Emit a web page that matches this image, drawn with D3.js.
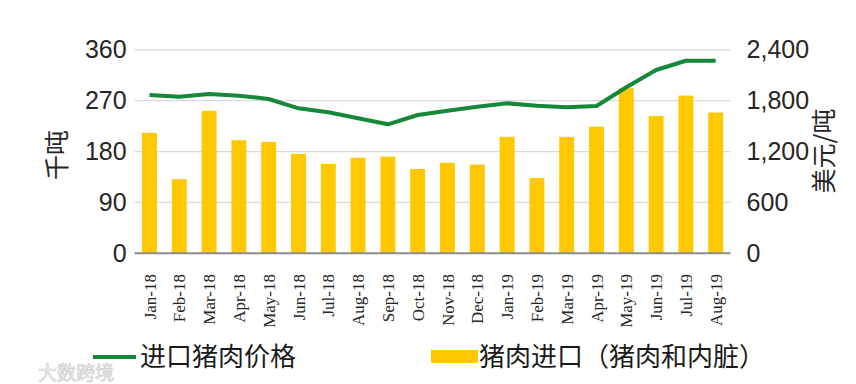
<!DOCTYPE html>
<html><head><meta charset="utf-8">
<script src="https://cdn.jsdelivr.net/npm/d3@7"></script>
<style>body{margin:0;background:#fff}svg{display:block}</style>
</head><body><svg id="c" width="856" height="384"></svg>
<script>
const months = ["Jan-18","Feb-18","Mar-18","Apr-18","May-18","Jun-18","Jul-18","Aug-18","Sep-18","Oct-18","Nov-18","Dec-18","Jan-19","Feb-19","Mar-19","Apr-19","May-19","Jun-19","Jul-19","Aug-19"];
const importVolume = [213,131,252,200,197,176,158,169,171,149,160,157,206,133,206,224,292,243,279,249];
const importPrice = [1867,1847,1879,1859,1820,1710,1663,1592,1521,1631,1682,1729,1769,1741,1722,1737,1958,2162,2271,2271];
const leftTicks = [0,90,180,270,360];
const rightTicks = [0,600,1200,1800,2400];
const leftTitle = "千吨", rightTitle = "美元/吨";
const legendLine = "进口猪肉价格", legendBar = "猪肉进口（猪肉和内脏）";

const svg = d3.select("#c");
const L = 134.6, R = 730.6, T = 49.8, B = 253.3;
const x = d3.scaleBand().domain(months).range([L,R]).paddingInner(0.5).paddingOuter(0.25);
const yL = d3.scaleLinear().domain([0,360]).range([B,T]);
const yR = d3.scaleLinear().domain([0,2400]).range([B,T]);
const num = "'Liberation Sans', Arial, sans-serif";
const cjk = "'Noto Sans CJK SC', sans-serif";

// gridlines
svg.append("g").selectAll("line").data(leftTicks.slice(1)).join("line")
  .attr("x1",L).attr("x2",R).attr("y1",d=>yL(d)).attr("y2",d=>yL(d))
  .attr("stroke","#d9d9d9").attr("stroke-width",1.3);

// bars
svg.append("g").selectAll("rect").data(months).join("rect")
  .attr("x",d=>x(d)).attr("width",x.bandwidth())
  .attr("y",(d,i)=>yL(importVolume[i])).attr("height",(d,i)=>B-yL(importVolume[i]))
  .attr("fill","#FFC800");

// baseline
svg.append("line").attr("x1",L).attr("x2",R).attr("y1",B).attr("y2",B)
  .attr("stroke","#8c8c8c").attr("stroke-width",2);

// line
const line = d3.line().x((d,i)=>x(months[i])+x.bandwidth()/2).y(d=>yR(d));
svg.append("path").datum(importPrice).attr("d",line)
  .attr("fill","none").attr("stroke","#15883a").attr("stroke-width",4).attr("stroke-linejoin","round");

// left axis
const gl = svg.append("g").attr("transform",`translate(${L},0)`)
  .call(d3.axisLeft(yL).tickValues(leftTicks).tickSize(0).tickPadding(8));
gl.select(".domain").remove();
gl.selectAll("text").attr("font-family",num).attr("font-size",25).attr("fill","#262626");

// right axis
const gr = svg.append("g").attr("transform",`translate(${R+8},0)`)
  .call(d3.axisRight(yR).tickValues(rightTicks).tickSize(0).tickPadding(8).tickFormat(d3.format(",")));
gr.select(".domain").remove();
gr.selectAll("text").attr("font-family",num).attr("font-size",25).attr("fill","#262626");

// x labels
svg.append("g").selectAll("text").data(months).join("text")
  .attr("transform",d=>`translate(${x(d)+x.bandwidth()/2+6},${274})rotate(-90)`)
  .attr("text-anchor","end").attr("font-family","'Liberation Serif', 'Times New Roman', serif")
  .attr("font-size",17).attr("fill","#262626").text(d=>d);

// axis titles
svg.append("text").attr("transform","translate(66,155)rotate(-90)").attr("text-anchor","middle")
  .attr("font-family",cjk).attr("font-size",25).attr("fill","#262626").text(leftTitle);
svg.append("text").attr("transform","translate(833,151)rotate(-90)").attr("text-anchor","middle")
  .attr("font-family",cjk).attr("font-size",25).attr("fill","#262626").text(rightTitle);

// legend
svg.append("line").attr("x1",93).attr("x2",136).attr("y1",357).attr("y2",357)
  .attr("stroke","#15883a").attr("stroke-width",4);
svg.append("text").attr("x",140).attr("y",366).attr("font-family",cjk).attr("font-size",26)
  .attr("fill","#1a1a1a").text(legendLine);
svg.append("rect").attr("x",431).attr("y",350).attr("width",47).attr("height",13).attr("fill","#FFC800");
svg.append("text").attr("x",479).attr("y",366).attr("font-family",cjk).attr("font-size",26)
  .attr("fill","#1a1a1a").text(legendBar);

// watermark
svg.append("text").attr("x",38).attr("y",380).attr("font-family",cjk).attr("font-size",19)
  .attr("fill","#f0f0f0").attr("stroke","#c8c8c8").attr("stroke-width",0.6).text("大数跨境");
</script></body></html>
